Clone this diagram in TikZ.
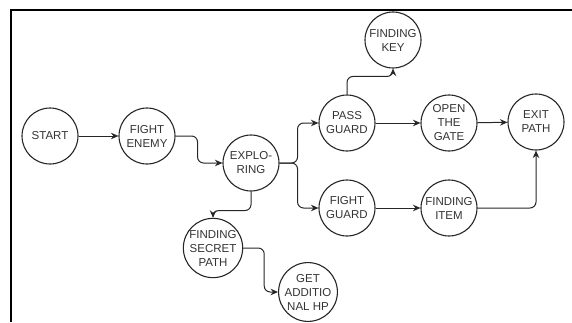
\documentclass[tikz,border=0pt]{standalone}
\usepackage{fontspec}
\setmainfont{Liberation Sans}
\usetikzlibrary{arrows.meta}
\begin{document}
\begin{tikzpicture}[x=1pt,y=1pt,
  state/.style={circle,draw=black!85,line width=1.1pt,minimum size=56pt,inner sep=0pt,
    align=center,text=black!80,font=\fontsize{11.5}{14}\selectfont},
  link/.style={draw=black!85,line width=1pt,rounded corners=6pt,
    -{Stealth[length=7.5pt,width=6.5pt]}}]
  \useasboundingbox (0,0) rectangle (572,322);
  % frame edges
  \draw[line width=2pt] (11,0) -- (11,312) -- (572,312);

  % states (y measured upward)
  \node[state] (start) at (50,186) {START};
  \node[state] (fe)    at (147,186) {FIGHT\\ENEMY};
  \node[state] (ex)    at (251,159) {EXPLO-\\RING};
  \node[state] (fsp)   at (213,74) {FINDING\\SECRET\\PATH};
  \node[state] (gah)   at (308,30) {GET\\ADDITIO\\NAL HP};
  \node[state] (fk)    at (393,282) {FINDING\\KEY};
  \node[state] (pg)    at (347,199) {PASS\\GUARD};
  \node[state] (og)    at (449,199) {OPEN\\THE\\GATE};
  \node[state] (ep)    at (536,200) {EXIT\\PATH};
  \node[state] (fg)    at (347,114) {FIGHT\\GUARD};
  \node[state] (fi)    at (449,114) {FINDING\\ITEM};

  % transitions
  \draw[link] (start) -- (fe);
  \draw[link] (fe.east) -- ++(22,0) |- (ex.west);
  \draw[link] (ex.east) -- ++(18,0) |- (pg.west);
  \draw[link] (ex.east) -- ++(18,0) |- (fg.west);
  \draw[link] (ex.south) -- ++(0,-19) -| (fsp.north);
  \draw[link] (fsp.east) -- ++(21,0) |- (gah.west);
  \draw[link] (pg.north) -- ++(0,18) -| (fk.south);
  \draw[link] (pg) -- (og);
  \draw[link] (og) -- (ep);
  \draw[link] (fg) -- (fi);
  \draw[link] (fi.east) -| (ep.south);
\end{tikzpicture}
\end{document}
